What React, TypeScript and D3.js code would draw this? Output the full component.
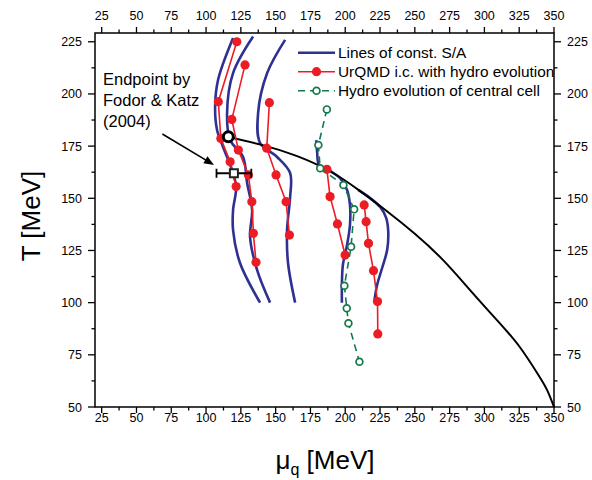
import React from 'react';
import * as d3 from 'd3';

// ---- data (mu_q [MeV], T [MeV]) ----
const xMajorTicks = [25, 50, 75, 100, 125, 150, 175, 200, 225, 250, 275, 300, 325, 350];
const xMinorTicks = [37.5, 62.5, 87.5, 112.5, 137.5, 162.5, 187.5, 212.5, 237.5, 262.5, 287.5, 312.5, 337.5];
const yMajorTicks = [50, 75, 100, 125, 150, 175, 200, 225];
const yMinorTicks = [62.5, 87.5, 112.5, 137.5, 162.5, 187.5, 212.5];

const saLineA = [[119.4, 226.8], [108.6, 206.7], [106.5, 193.7], [107.9, 182.7], [112.2, 174.6], [118.6, 163.6], [121.6, 155.4], [119.4, 144.4], [119.4, 134.8], [124.4, 119], [138.8, 100]];
const saLineB = [[133.8, 227.5], [119.4, 210], [115.1, 190.9], [117.3, 177.9], [126.6, 169.8], [129.5, 157.3], [133.1, 144.4], [131.6, 131.5], [136.7, 115.6], [146.0, 100]];
const saLineC = [[156.8, 225.9], [143.9, 210], [137.4, 190.9], [138.8, 176.5], [151.0, 169.8], [160.4, 162.1], [160.4, 150.6], [158.2, 134.8], [158.9, 119], [164.0, 100]];
const saLineD = [[179.1, 177.9], [179.8, 172.2], [181.2, 166], [189.1, 163.1], [196.3, 159.7], [201.3, 154], [203.4, 146.8], [203.4, 137.2], [201.3, 127.6], [198.3, 118], [197.6, 108.5], [197.6, 100]];
const saLineE = [[209.3, 154], [217.9, 150.1], [225.1, 145.8], [229.4, 140.6], [230.9, 133.9], [230.1, 125.2], [226.5, 116.6], [222.9, 108.5], [220.8, 100]];
const saLines = [saLineA, saLineB, saLineC, saLineD, saLineE];

const phaseBoundary = [[115.8, 179.4], [140, 175.6], [165, 170.3], [190, 162.6], [210, 153.8], [230, 143.8], [250, 133.0], [270, 120.6], [290, 105.8], [310, 90.9], [325, 79.1], [338, 66.2], [345, 58.2], [350, 50]];

const urqmd1 = [[122.1, 225.0], [108.8, 196.3], [110.6, 178.7], [117.3, 167.5], [121.6, 155.6]];
const urqmd2 = [[128.0, 213.9], [118.5, 187.8], [123.2, 173.1], [130.4, 161.2], [132.9, 148.4], [134.0, 133.2], [135.9, 119.3]];
const urqmd3 = [[145.5, 195.8], [143.6, 174.0], [150.3, 161.2], [157.5, 148.4], [159.9, 132.4]];
const urqmd4 = [[186.8, 163.9], [189.1, 150.8], [194.4, 137.7], [199.9, 122.8]];
const urqmd5 = [[213.6, 146.8], [215.0, 138.8], [216.7, 128.4], [220.3, 115.3], [223.2, 100.5], [223.4, 85.0]];
const urqmdSeries = [urqmd1, urqmd2, urqmd3, urqmd4, urqmd5];

const centralCell = [[186.8, 192.6], [180.7, 175.5], [182.0, 164.4], [198.7, 156.4], [206.4, 144.7], [204.2, 126.8], [199.4, 108.1], [201.1, 97.3], [202.3, 90.1], [210.2, 71.7]];

const criticalPoint = [116.0, 179.5];
const fodorKatz = { mu: 120, T: 162, muErr: 12.5 };
const arrowFrom = [68.6, 180.8];
const arrowTo = [105.7, 166.0];

const legendLabels = ['Lines of const. S/A', 'UrQMD i.c. with hydro evolution', 'Hydro evolution of central cell'];
const annotation = ['Endpoint by', 'Fodor & Katz', '(2004)'];

const BLUE = '#2e3192';
const RED = '#ec1c24';
const GREEN = '#13784a';
const FONT = "'Liberation Sans', Arial, sans-serif";

export default function App() {
  const W = 592, H = 480;
  const x = d3.scaleLinear().domain([20.2, 350]).range([95, 554]);
  const y = d3.scaleLinear().domain([50, 229.2]).range([407, 33]);
  const [x0, x1] = x.range();
  const [y0, y1] = y.range();

  const smooth = d3.line<number[]>().x(d => x(d[0])).y(d => y(d[1])).curve(d3.curveCatmullRom.alpha(0.5));
  const natural = d3.line<number[]>().x(d => x(d[0])).y(d => y(d[1])).curve(d3.curveNatural);
  const straight = d3.line<number[]>().x(d => x(d[0])).y(d => y(d[1]));

  const fkx = x(fodorKatz.mu), fky = y(fodorKatz.T);
  const fkxl = x(fodorKatz.mu - fodorKatz.muErr), fkxr = x(fodorKatz.mu + fodorKatz.muErr);

  const ax0 = x(arrowFrom[0]), ay0 = y(arrowFrom[1]);
  const ax1 = x(arrowTo[0]), ay1 = y(arrowTo[1]);
  const ang = Math.atan2(ay1 - ay0, ax1 - ax0);
  const hl = 10, hw = 4;
  const head = [
    [ax1, ay1],
    [ax1 - hl * Math.cos(ang) + hw * Math.sin(ang), ay1 - hl * Math.sin(ang) - hw * Math.cos(ang)],
    [ax1 - hl * Math.cos(ang) - hw * Math.sin(ang), ay1 - hl * Math.sin(ang) + hw * Math.cos(ang)],
  ];

  const legX = 298, legY = 52.7, legDy = 19;

  return (
    <svg width={W} height={H} style={{ position: 'absolute', left: 0, top: 0, background: '#fff' }} fontFamily={FONT}>
      <defs>
        <clipPath id="plotclip">
          <rect x={x0} y={y1} width={x1 - x0} height={y0 - y1} />
        </clipPath>
      </defs>

      {/* S/A lines */}
      <g clipPath="url(#plotclip)" fill="none" stroke={BLUE} strokeWidth={2.6}>
        {saLines.map((d, i) => <path key={i} d={smooth(d) || ''} />)}
      </g>

      {/* phase boundary */}
      <path d={natural(phaseBoundary) || ''} fill="none" stroke="#000" strokeWidth={2} />

      {/* UrQMD series */}
      {urqmdSeries.map((s, i) => (
        <g key={i}>
          <path d={straight(s) || ''} fill="none" stroke={RED} strokeWidth={1.6} />
          {s.map((p, j) => <circle key={j} cx={x(p[0])} cy={y(p[1])} r={4.6} fill={RED} />)}
        </g>
      ))}

      {/* central cell */}
      <path d={straight(centralCell) || ''} fill="none" stroke={GREEN} strokeWidth={1.6} strokeDasharray="7,5" />
      {centralCell.map((p, j) => <circle key={j} cx={x(p[0])} cy={y(p[1])} r={3.4} fill="#fff" stroke={GREEN} strokeWidth={1.7} />)}

      {/* critical point */}
      <circle cx={x(criticalPoint[0])} cy={y(criticalPoint[1])} r={5} fill="#fff" stroke="#000" strokeWidth={3} />

      {/* Fodor & Katz endpoint */}
      <g stroke="#000" strokeWidth={1.8}>
        <line x1={fkxl} x2={fkxr} y1={fky} y2={fky} />
        <line x1={fkxl} x2={fkxl} y1={fky - 4.5} y2={fky + 4.5} />
        <line x1={fkxr} x2={fkxr} y1={fky - 4.5} y2={fky + 4.5} />
      </g>
      <rect x={fkx - 4} y={fky - 4} width={8} height={8} fill="#fff" stroke="#222" strokeWidth={2} />

      {/* arrow */}
      <line x1={ax0} y1={ay0} x2={ax1 - 6 * Math.cos(ang)} y2={ay1 - 6 * Math.sin(ang)} stroke="#000" strokeWidth={1.6} />
      <polygon points={head.map(p => p.join(',')).join(' ')} fill="#000" />

      {/* annotation */}
      <g fontSize={16.5} fill="#000">
        {annotation.map((t, i) => <text key={i} x={103} y={85 + i * 21}>{t}</text>)}
      </g>

      {/* frame */}
      <rect x={x0} y={y1} width={x1 - x0} height={y0 - y1} fill="none" stroke="#000" strokeWidth={1.5} />

      {/* ticks */}
      <g stroke="#000" strokeWidth={1.3}>
        {xMajorTicks.map(t => (
          <g key={t}>
            <line x1={x(t)} x2={x(t)} y1={y0} y2={y0 + 6} />
            <line x1={x(t)} x2={x(t)} y1={y1} y2={y1 - 6} />
          </g>
        ))}
        {xMinorTicks.map(t => (
          <g key={t}>
            <line x1={x(t)} x2={x(t)} y1={y0} y2={y0 + 3.5} />
            <line x1={x(t)} x2={x(t)} y1={y1} y2={y1 - 3.5} />
          </g>
        ))}
        {yMajorTicks.map(t => (
          <g key={t}>
            <line x1={x0} x2={x0 - 7} y1={y(t)} y2={y(t)} />
            <line x1={x1} x2={x1 + 7} y1={y(t)} y2={y(t)} />
          </g>
        ))}
        {yMinorTicks.map(t => (
          <g key={t}>
            <line x1={x0} x2={x0 - 3.5} y1={y(t)} y2={y(t)} />
            <line x1={x1} x2={x1 + 3.5} y1={y(t)} y2={y(t)} />
          </g>
        ))}
      </g>
      <g fontSize={12.5} fill="#000">
        {xMajorTicks.map(t => (
          <g key={t}>
            <text x={x(t)} y={422} textAnchor="middle">{t}</text>
            <text x={x(t)} y={19.5} textAnchor="middle">{t}</text>
          </g>
        ))}
        {yMajorTicks.map(t => (
          <g key={t}>
            <text x={x0 - 13} y={y(t)} dy="0.36em" textAnchor="end">{t}</text>
            <text x={x1 + 13} y={y(t)} dy="0.36em" textAnchor="start">{t}</text>
          </g>
        ))}
      </g>

      {/* axis titles */}
      <text transform="translate(40,216) rotate(-90)" textAnchor="middle" fontSize={26} fill="#000">T [MeV]</text>
      <text x={325} y={469} textAnchor="middle" fontSize={26} fill="#000">
        <tspan>μ</tspan><tspan fontSize={16} dy={6}>q</tspan><tspan dy={-6}> [MeV]</tspan>
      </text>

      {/* legend */}
      <g fontSize={15.4} fill="#000">
        <line x1={legX} x2={legX + 37} y1={legY} y2={legY} stroke={BLUE} strokeWidth={2.6} />
        <text x={legX + 40} y={legY + 5}>{legendLabels[0]}</text>

        <line x1={legX} x2={legX + 37} y1={legY + legDy} y2={legY + legDy} stroke={RED} strokeWidth={1.6} />
        <circle cx={legX + 18.5} cy={legY + legDy} r={4.6} fill={RED} />
        <text x={legX + 40} y={legY + legDy + 5}>{legendLabels[1]}</text>

        <line x1={legX} x2={legX + 37} y1={legY + 2 * legDy} y2={legY + 2 * legDy} stroke={GREEN} strokeWidth={1.6} strokeDasharray="7,5" />
        <circle cx={legX + 18.5} cy={legY + 2 * legDy} r={3.4} fill="#fff" stroke={GREEN} strokeWidth={1.7} />
        <text x={legX + 40} y={legY + 2 * legDy + 5}>{legendLabels[2]}</text>
      </g>
    </svg>
  );
}
